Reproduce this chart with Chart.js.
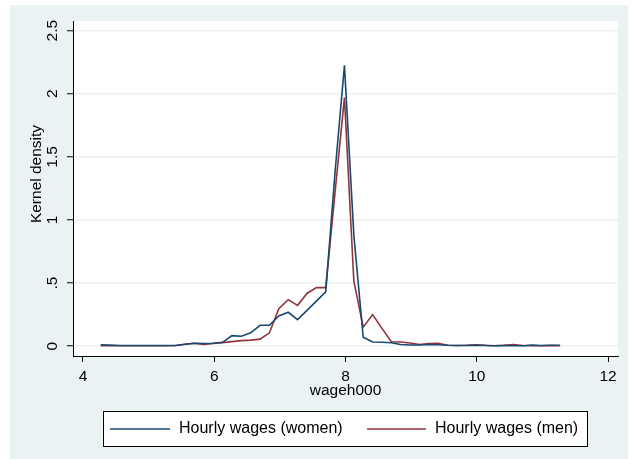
<!DOCTYPE html>
<html>
<head>
<meta charset="utf-8">
<script src="https://cdn.jsdelivr.net/npm/chart.js@4.4.1/dist/chart.umd.min.js"></script>
<style>
  html, body { margin: 0; padding: 0; background: #ffffff; }
  #wrap { width: 633px; height: 459px; }
</style>
</head>
<body>
<div id="wrap"><canvas id="c" width="633" height="459"></canvas></div>
<script>
// Evaluation grid of the kernel density estimates (hourly wage)
const wageGrid = [
  4.270, 4.413, 4.556, 4.699, 4.841, 4.984, 5.127, 5.270, 5.413, 5.556,
  5.699, 5.841, 5.984, 6.127, 6.270, 6.413, 6.556, 6.699, 6.841, 6.984,
  7.127, 7.270, 7.413, 7.556, 7.699, 7.841, 7.984, 8.127, 8.270, 8.413,
  8.556, 8.699, 8.841, 8.984, 9.127, 9.270, 9.413, 9.556, 9.699, 9.841,
  9.984, 10.127, 10.270, 10.413, 10.556, 10.699, 10.841, 10.984, 11.127, 11.270
];

// Estimated density, women
const womenDensity = [
  0.010, 0.008, 0.005, 0.004, 0.004, 0.004, 0.004, 0.004, 0.005, 0.015,
  0.022, 0.020, 0.022, 0.030, 0.083, 0.078, 0.105, 0.165, 0.165, 0.238,
  0.268, 0.210, 0.283, 0.356, 0.430, 1.380, 2.225, 0.880, 0.070, 0.032,
  0.030, 0.026, 0.013, 0.009, 0.008, 0.012, 0.010, 0.006, 0.005, 0.004,
  0.007, 0.004, 0.003, 0.004, 0.003, 0.003, 0.008, 0.005, 0.006, 0.006
];

// Estimated density, men
const menDensity = [
  0.003, 0.003, 0.003, 0.003, 0.003, 0.003, 0.003, 0.003, 0.004, 0.015,
  0.022, 0.012, 0.020, 0.027, 0.035, 0.043, 0.047, 0.055, 0.105, 0.297,
  0.368, 0.323, 0.417, 0.463, 0.463, 1.220, 1.970, 0.515, 0.150, 0.250,
  0.140, 0.034, 0.032, 0.024, 0.013, 0.020, 0.022, 0.006, 0.005, 0.006,
  0.010, 0.006, 0.003, 0.006, 0.012, 0.005, 0.003, 0.003, 0.004, 0.003
];

const xTicks = [4, 6, 8, 10, 12];
const yTicks = [0, 0.5, 1, 1.5, 2, 2.5];
const yTickLabels = ['0', '.5', '1', '1.5', '2', '2.5'];
const seriesLabels = ['Hourly wages (women)', 'Hourly wages (men)'];
const xTitle = 'wageh000';
const yTitle = 'Kernel density';

const FONT = '"Liberation Sans", Arial, Helvetica, sans-serif';
const FS = 15.5;
Chart.defaults.font.family = FONT;
Chart.defaults.font.size = FS;
Chart.defaults.color = '#000000';

const BG = '#eaf2f3';
const NAVY = '#1a476f';
const MAROON = '#90353b';

const toPoints = arr => wageGrid.map((x, i) => ({ x: x, y: arr[i] }));

// Outer graph region, white plot region, rotated y title and framed legend
const stataFrame = {
  id: 'stataFrame',
  beforeDraw(chart) {
    const { ctx, chartArea: a } = chart;
    ctx.save();
    ctx.fillStyle = BG;
    ctx.fillRect(10, 5, 618, 454);
    ctx.fillStyle = '#ffffff';
    ctx.fillRect(a.left, a.top, a.right - a.left, a.bottom - a.top);
    ctx.restore();
  },
  afterDraw(chart) {
    const { ctx } = chart;
    ctx.save();
    // y-axis title
    ctx.translate(37, 174);
    ctx.rotate(-Math.PI / 2);
    ctx.font = FS + 'px ' + FONT;
    ctx.fillStyle = '#000';
    ctx.textAlign = 'center';
    ctx.textBaseline = 'middle';
    ctx.fillText(yTitle, 0, 0);
    ctx.restore();

    // legend
    ctx.save();
    ctx.fillStyle = '#ffffff';
    ctx.fillRect(103.5, 411.5, 484, 35);
    ctx.strokeStyle = '#000000';
    ctx.lineWidth = 1;
    ctx.strokeRect(103.5, 411.5, 484, 35);
    const cy = 429;
    const slots = [{ x0: 110, x1: 170, tx: 179 }, { x0: 367, x1: 426, tx: 435 }];
    chart.data.datasets.forEach((ds, i) => {
      const s = slots[i];
      ctx.strokeStyle = ds.borderColor;
      ctx.lineWidth = 1.6;
      ctx.beginPath();
      ctx.moveTo(s.x0, cy);
      ctx.lineTo(s.x1, cy);
      ctx.stroke();
      ctx.fillStyle = '#000';
      ctx.font = '16px ' + FONT;
      ctx.textAlign = 'left';
      ctx.textBaseline = 'middle';
      ctx.fillText(ds.label, s.tx, cy);
    });
    ctx.restore();
  }
};

new Chart(document.getElementById('c'), {
  type: 'line',
  data: {
    datasets: [
      { label: seriesLabels[0], data: toPoints(womenDensity), borderColor: NAVY, borderWidth: 1.6, pointRadius: 0, tension: 0, fill: false },
      { label: seriesLabels[1], data: toPoints(menDensity), borderColor: MAROON, borderWidth: 1.6, pointRadius: 0, tension: 0, fill: false }
    ]
  },
  options: {
    responsive: false,
    animation: false,
    events: [],
    layout: { padding: { left: 11, right: 15, top: 21, bottom: 59 } },
    plugins: { legend: { display: false }, tooltip: { enabled: false } },
    scales: {
      x: {
        type: 'linear',
        min: 3.848,
        max: 12.152,
        afterBuildTicks: s => { s.ticks = xTicks.map(v => ({ value: v })); },
        afterFit: s => { s.height = 44; },
        ticks: { padding: 5, maxRotation: 0, autoSkip: false, color: '#000', font: { size: FS }, callback: v => String(v) },
        grid: { drawOnChartArea: false, drawTicks: true, tickLength: 6, tickColor: '#000', tickWidth: 1 },
        border: { display: true, color: '#000', width: 1 },
        title: { display: true, text: xTitle, color: '#000', font: { size: FS }, padding: { top: 0, bottom: 0 } }
      },
      y: {
        type: 'linear',
        min: -0.0787,
        max: 2.577,
        afterBuildTicks: s => { s.ticks = yTicks.map(v => ({ value: v })); },
        afterFit: s => { s.width = 62; },
        ticks: {
          padding: 4, minRotation: 90, maxRotation: 90, crossAlign: 'center', autoSkip: false,
          color: '#000', font: { size: FS },
          callback: v => { const i = yTicks.indexOf(v); return i >= 0 ? yTickLabels[i] : ''; }
        },
        grid: { drawOnChartArea: true, color: BG, lineWidth: 1.5, drawTicks: true, tickLength: 6, tickColor: '#000', tickWidth: 1 },
        border: { display: true, color: '#000', width: 1 }
      }
    }
  },
  plugins: [stataFrame]
});
</script>
</body>
</html>
